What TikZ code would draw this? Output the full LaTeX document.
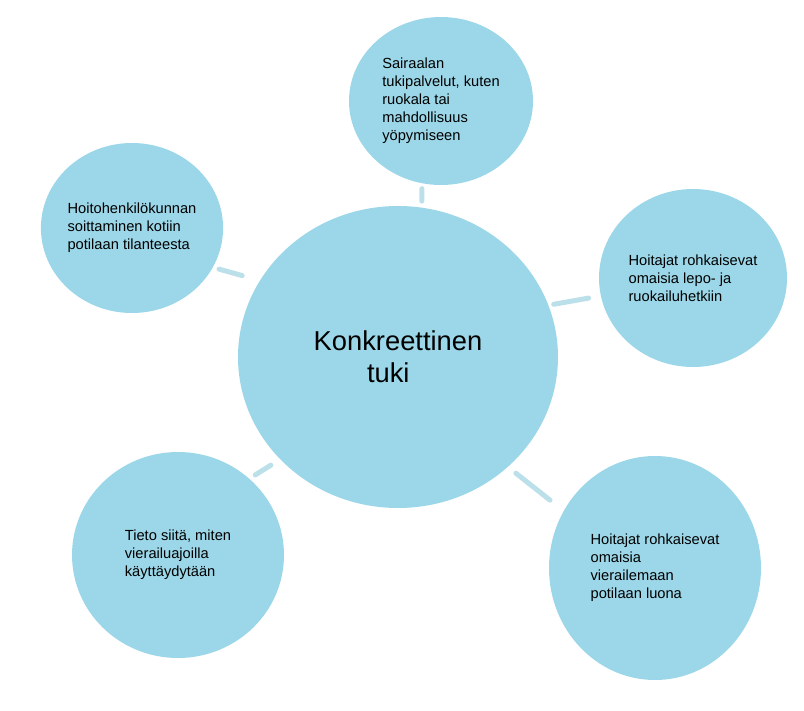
\documentclass[tikz,border=0pt]{standalone}
\usepackage{fontspec}
\setmainfont{Liberation Sans}
\usetikzlibrary{shapes.geometric}
\definecolor{bubblefill}{RGB}{155,215,232}
\definecolor{spokefill}{RGB}{188,224,234}
\begin{document}
\begin{tikzpicture}[line cap=round,line join=round,x=0.75pt,y=-0.75pt,
  bubble/.style={ellipse,fill=bubblefill,inner sep=0pt,outer sep=0pt,align=left,font=\fontsize{11}{13.5}\selectfont},
  spoke/.style={draw=spokefill,line width=3.75pt}]
\useasboundingbox (0,0) rectangle (804,711);
\node[bubble,minimum width=240pt,minimum height=226.5pt,font=\fontsize{20.5}{24}\selectfont] (hub) at (398,357) {Konkreettinen\\\hspace*{40pt}tuki};
\node[bubble,minimum width=138pt,minimum height=126pt] (palvelut) at (441,101) {Sairaalan\\tukipalvelut, kuten\\ruokala tai\\mahdollisuus\\yöpymiseen};
\node[bubble,minimum width=129pt,minimum height=127.5pt] (soitto) at (132,228) {Hoitohenkilökunnan\\soittaminen kotiin\\potilaan tilanteesta};
\node[bubble,minimum width=141pt,minimum height=133.5pt] (lepo) at (693,278) {Hoitajat rohkaisevat\\omaisia lepo- ja\\ruokailuhetkiin};
\node[bubble,minimum width=159pt,minimum height=154.5pt] (tieto) at (178,555) {Tieto siitä, miten\\vierailuajoilla\\käyttäydytään};
\node[bubble,minimum width=159pt,minimum height=168pt] (vierailu) at (655,568) {Hoitajat rohkaisevat\\omaisia\\vierailemaan\\potilaan luona};
\draw[spoke,shorten <=4.9pt,shorten >=4.1pt] (hub.81) -- (palvelut.257.6);
\draw[spoke,shorten <=13.9pt,shorten >=4.9pt] (hub.151.6) -- (soitto.-26.3);
\draw[spoke,shorten <=4.1pt,shorten >=9.4pt] (hub.19.3) -- (lepo.191.4);
\draw[spoke,shorten <=8.3pt,shorten >=5.3pt] (hub.-139.6) -- (tieto.47);
\draw[spoke,shorten <=7.7pt,shorten >=13.1pt] (hub.-45.8) -- (vierailu.148.7);
\end{tikzpicture}
\end{document}
